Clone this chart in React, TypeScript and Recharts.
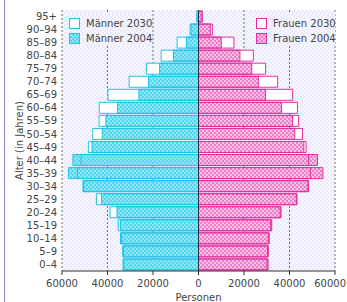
import React from "react";
import { BarChart, Bar, XAxis, YAxis, CartesianGrid, ReferenceLine } from "recharts";

const ages = ["0–4", "5–9", "10–14", "15–19", "20–24", "25–29", "30–34", "35–39", "40–44", "45–49", "50–54", "55–59", "60–64", "65–69", "70–74", "75–79", "80–84", "85–89", "90–94", "95+"];
const men2004 = [33200, 33300, 34300, 34300, 35800, 42600, 50800, 57200, 55200, 46800, 42300, 40700, 35600, 26200, 22000, 17100, 11000, 5300, 3300, 600];
const men2030 = [32800, 33000, 33800, 35300, 38900, 44900, 50500, 53200, 51600, 48400, 46500, 43700, 43600, 39800, 30500, 22900, 16400, 9400, 3700, 800];
const women2004 = [30600, 30700, 31100, 32200, 36300, 43300, 48400, 54700, 52300, 46300, 42300, 41400, 36500, 29500, 26300, 23400, 18200, 10000, 5200, 1200];
const women2030 = [30100, 30300, 30700, 31700, 35900, 43000, 48100, 49200, 48400, 47300, 45700, 44000, 43500, 41400, 34800, 29500, 24100, 15600, 6100, 1700];
const xTicks = [-60000, -40000, -20000, 0, 20000, 40000, 60000];
const legendLeft = ["Männer 2030", "Männer 2004"];
const legendRight = ["Frauen 2030", "Frauen 2004"];

const data = ages.map((age, i) => ({
  age,
  m2030: -men2030[i],
  m2004: -men2004[i],
  f2030: women2030[i],
  f2004: women2004[i],
}));

const FONT = "'DejaVu Sans', sans-serif";
const TEXT = "#444";
const CYAN_LINE = "#22c2e6";
const PINK_LINE = "#e0309c";
const bgCss = "repeating-conic-gradient(#e6ecfb 0% 25%, #fbf6fd 0% 50%) 0 0/4px 4px";
const cyanCss = "repeating-conic-gradient(#4cd8ef 0% 25%, #96e3f4 0% 50%) 0 0/4px 4px";
const pinkCss = "repeating-conic-gradient(#f07cc8 0% 25%, #f8c2e6 0% 50%) 0 0/4px 4px";

const YTitle = (props: any) => {
  const vb = props.viewBox || { x: 0, y: 10, width: 62, height: 261 };
  const x = vb.x + 19;
  const y = vb.y + vb.height / 2;
  return (
    <text x={x} y={y} transform={`rotate(-90 ${x} ${y})`} textAnchor="middle" dominantBaseline="central" fontSize={10} fontFamily={FONT} fill={TEXT}>
      Alter (in Jahren)
    </text>
  );
};

const XTick = (props: any) => {
  const { x, y, payload } = props;
  const label = String(Math.abs(payload.value));
  const w = label.length * 6.36;
  const cx = Math.min(x, 346 - w / 2);
  return (
    <text x={cx} y={y} dy="0.71em" textAnchor="middle" fontSize={10} fontFamily={FONT} fill={TEXT}>
      {label}
    </text>
  );
};

const LegendBlock = ({ left, labels, line, fill }: { left: number; labels: string[]; line: string; fill: string }) => (
  <div style={{ position: "absolute", left, top: 14, width: 82, height: 32, background: bgCss, fontFamily: FONT, fontSize: 10, color: TEXT }}>
    {labels.map((l, i) => (
      <div key={l} style={{ position: "absolute", left: 0, top: 2 + i * 15, height: 14, display: "flex", alignItems: "center", whiteSpace: "nowrap" }}>
        <div style={{ width: 9, height: 9, marginLeft: 3, marginRight: 6, border: `1px solid ${line}`, background: i === 0 ? "#ffffff" : fill }} />
        <span>{l}</span>
      </div>
    ))}
  </div>
);

export default function App() {
  return (
    <div style={{ position: "absolute", left: 0, top: 0, width: 347, height: 302, background: "#fff" }}>
      <BarChart
        layout="vertical"
        width={347}
        height={302}
        data={data}
        margin={{ top: 10, right: 12, left: 0, bottom: 0 }}
        stackOffset="sign"
        barCategoryGap={1}
      >
        <defs>
          <pattern id="bgPat" width="4" height="4" patternUnits="userSpaceOnUse">
            <rect width="4" height="4" fill="#fbf6fd" />
            <rect width="2" height="2" fill="#e6ecfb" />
            <rect x="2" y="2" width="2" height="2" fill="#e6ecfb" />
          </pattern>
          <pattern id="cyanPat" width="4" height="4" patternUnits="userSpaceOnUse">
            <rect width="4" height="4" fill="#4cd8ef" />
            <rect width="2" height="2" fill="#96e3f4" />
            <rect x="2" y="2" width="2" height="2" fill="#96e3f4" />
          </pattern>
          <pattern id="pinkPat" width="4" height="4" patternUnits="userSpaceOnUse">
            <rect width="4" height="4" fill="#f07cc8" />
            <rect width="2" height="2" fill="#f8c2e6" />
            <rect x="2" y="2" width="2" height="2" fill="#f8c2e6" />
          </pattern>
        </defs>
        <CartesianGrid yAxisId="main" horizontal={false} vertical={true} fill="url(#bgPat)" stroke="#6f7a5a" strokeDasharray="2 2" />
        <XAxis
          type="number"
          domain={[-60000, 60000]}
          ticks={xTicks}
          allowDataOverflow
          height={31}
          tick={<XTick />}
          tickSize={4}
          tickMargin={5}
          stroke="#333"
          interval={0}
          label={{ value: "Personen", position: "insideBottom", offset: 1, fontSize: 10, fontFamily: FONT, fill: TEXT }}
        />
        <YAxis
          yAxisId="main"
          type="category"
          dataKey="age"
          reversed
          width={62}
          axisLine={false}
          tickLine={false}
          tickSize={0}
          tickMargin={5}
          interval={0}
          tick={{ fontSize: 10, fontFamily: FONT, fill: TEXT }}
          label={{ content: YTitle }}
        />
        <YAxis yAxisId="bg" type="category" dataKey="age" reversed hide orientation="right" width={0} />
        <YAxis yAxisId="line" type="category" dataKey="age" reversed hide orientation="right" width={0} />
        <Bar yAxisId="bg" dataKey="m2030" stackId="bg" fill="#ffffff" isAnimationActive={false} />
        <Bar yAxisId="bg" dataKey="f2030" stackId="bg" fill="#ffffff" isAnimationActive={false} />
        <Bar yAxisId="main" dataKey="m2004" stackId="main" fill="url(#cyanPat)" stroke={CYAN_LINE} strokeWidth={1} isAnimationActive={false} />
        <Bar yAxisId="main" dataKey="f2004" stackId="main" fill="url(#pinkPat)" stroke={PINK_LINE} strokeWidth={1} isAnimationActive={false} />
        <Bar yAxisId="line" dataKey="m2030" stackId="line" fill="none" stroke={CYAN_LINE} strokeWidth={1} isAnimationActive={false} />
        <Bar yAxisId="line" dataKey="f2030" stackId="line" fill="none" stroke={PINK_LINE} strokeWidth={1} isAnimationActive={false} />
        <ReferenceLine yAxisId="main" x={0} stroke="#2a2a4a" strokeWidth={1} />
      </BarChart>
      <LegendBlock left={66} labels={legendLeft} line={CYAN_LINE} fill={cyanCss} />
      <LegendBlock left={253} labels={legendRight} line={PINK_LINE} fill={pinkCss} />
      <div style={{ position: "absolute", left: 4, top: 0, width: 1, height: 302, background: "#8a86cc" }} />
    </div>
  );
}
